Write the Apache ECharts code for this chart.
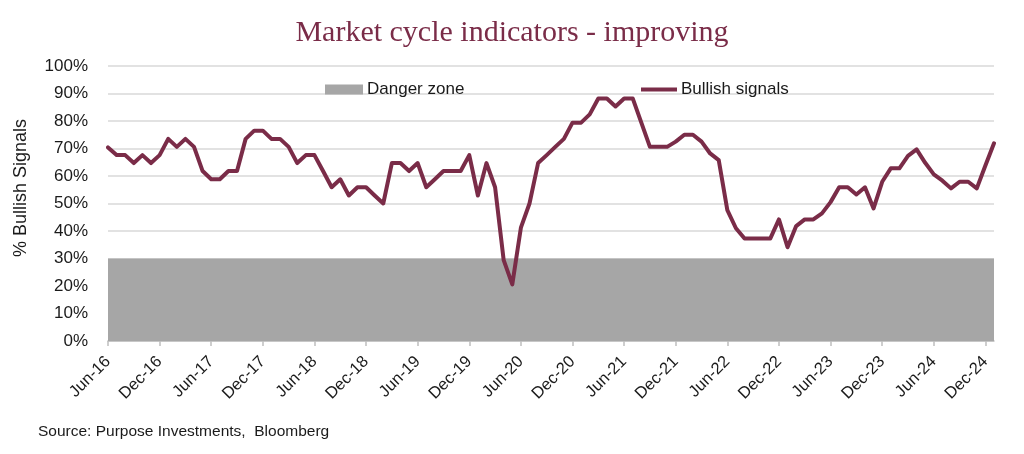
<!DOCTYPE html>
<html>
<head>
<meta charset="utf-8">
<script src="https://cdn.jsdelivr.net/npm/echarts@6/dist/echarts.min.js"></script>
<style>
html,body{margin:0;padding:0;background:#fff;}
#chart{width:1024px;height:454px;}
</style>
</head>
<body>
<div id="chart"></div>
<script>
// Monthly categories Jun-16 .. Jan-25
const monthNames = ['Jan','Feb','Mar','Apr','May','Jun','Jul','Aug','Sep','Oct','Nov','Dec'];
const categories = [];
for (let y = 2016, m = 5; categories.length < 104; ) {
  categories.push(monthNames[m] + '-' + String(y).slice(2));
  m++; if (m > 11) { m = 0; y++; }
}

// % Bullish signals
const bullishSignals = [
  70.4, 67.6, 67.6, 64.7, 67.6, 64.7, 67.6, 73.5, 70.6, 73.5,
  70.6, 61.8, 58.8, 58.8, 61.8, 61.8, 73.5, 76.5, 76.5, 73.5,
  73.5, 70.6, 64.7, 67.6, 67.6, 61.8, 55.9, 58.8, 52.9, 55.9,
  55.9, 52.9, 50.0, 64.7, 64.7, 61.8, 64.7, 55.9, 58.8, 61.8,
  61.8, 61.8, 67.6, 52.9, 64.7, 55.9, 29.4, 20.6, 41.2, 50.0,
  64.7, 67.6, 70.6, 73.5, 79.4, 79.4, 82.4, 88.2, 88.2, 85.3,
  88.2, 88.2, 79.4, 70.6, 70.6, 70.6, 72.5, 75.0, 75.0, 72.5,
  68.2, 65.8, 47.6, 41.0, 37.3, 37.3, 37.3, 37.3, 44.2, 34.1,
  41.8, 44.2, 44.2, 46.4, 50.5, 55.9, 55.9, 53.3, 55.9, 48.2,
  57.9, 62.8, 62.8, 67.3, 69.7, 64.8, 60.6, 58.3, 55.5, 57.9,
  57.9, 55.5, 63.8, 71.9
];

// Danger zone band (lower, upper) in %
const dangerZone = [0, 30];

const MAROON = '#7A2C48';
const GRAY = '#A6A6A6';
const TEXT = '#1a1a1a';

const chart = echarts.init(document.getElementById('chart'), null, {renderer: 'canvas'});
chart.setOption({
  animation: false,
  backgroundColor: '#ffffff',
  title: {
    text: 'Market cycle indicators - improving',
    left: 'center',
    top: 13,
    textStyle: {fontFamily: 'Liberation Serif', fontSize: 30, fontWeight: 'normal', color: MAROON}
  },
  legend: [
    {
      data: [{name: 'Danger zone', icon: 'rect'}],
      left: 320, top: 76,
      itemWidth: 38, itemHeight: 10, itemGap: 4,
      textStyle: {fontFamily: 'Liberation Sans', fontSize: 17, color: TEXT, padding: [0,0,0,-1]}
    },
    {
      data: [{name: 'Bullish signals', icon: 'path://M0,0 L36,0 L36,4 L0,4 Z'}],
      left: 636, top: 76,
      itemWidth: 36, itemHeight: 10, itemGap: 4,
      textStyle: {fontFamily: 'Liberation Sans', fontSize: 17, color: TEXT, padding: [0,0,0,-1]}
    }
  ],
  grid: {left: 108, right: 30, top: 66, bottom: 113, containLabel: false},
  xAxis: {
    type: 'category',
    data: categories,
    boundaryGap: false,
    axisLine: {show: true, lineStyle: {color: '#BFBFBF', width: 1.5}},
    axisTick: {show: true, interval: 5, length: 5, lineStyle: {color: '#BFBFBF', width: 1.5}},
    axisLabel: {
      interval: 5, rotate: 45, margin: 18,
      fontFamily: 'Liberation Sans', fontSize: 16.5, color: TEXT
    },
    splitLine: {show: false}
  },
  yAxis: {
    type: 'value',
    min: 0, max: 100, interval: 10,
    axisLine: {show: false},
    axisTick: {show: false},
    axisLabel: {
      formatter: '{value}%', margin: 20,
      fontFamily: 'Liberation Sans', fontSize: 17, color: TEXT
    },
    splitLine: {show: true, lineStyle: {color: '#D9D9D9', width: 1.5}}
  },
  graphic: [
    {
      type: 'text',
      x: 21, y: 188,
      rotation: Math.PI / 2,
      style: {
        text: '% Bullish Signals',
        fontFamily: 'Liberation Sans', fontSize: 18, fill: TEXT,
        textAlign: 'center', textVerticalAlign: 'middle'
      }
    },
    {
      type: 'text',
      left: 38, top: 424,
      style: {
        text: 'Source: Purpose Investments,  Bloomberg',
        fontFamily: 'Liberation Sans', fontSize: 15.5, fill: TEXT
      }
    }
  ],
  series: [
    {
      name: 'Danger zone',
      type: 'line',
      data: [],
      itemStyle: {color: GRAY},
      lineStyle: {color: GRAY},
      silent: true,
      z: 1,
      markArea: {
        silent: true,
        itemStyle: {color: GRAY, opacity: 1},
        data: [[{yAxis: dangerZone[0]}, {yAxis: dangerZone[1]}]]
      }
    },
    {
      name: 'Bullish signals',
      type: 'line',
      data: bullishSignals,
      symbol: 'none',
      smooth: false,
      z: 3,
      itemStyle: {color: MAROON},
      lineStyle: {color: MAROON, width: 4, join: 'round', cap: 'round'}
    }
  ]
});
</script>
</body>
</html>
